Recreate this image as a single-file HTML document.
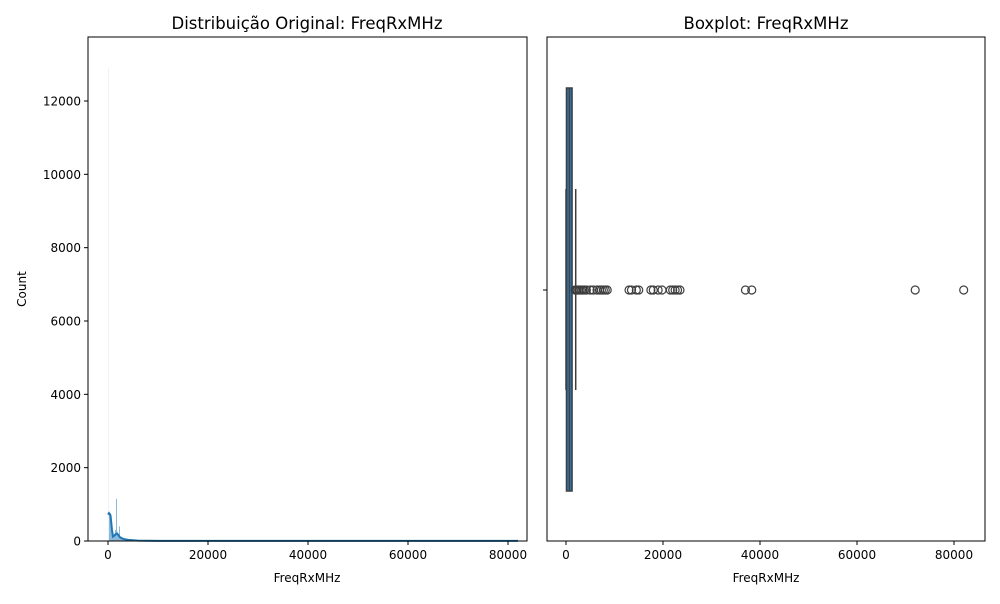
<!DOCTYPE html>
<html><head><meta charset="utf-8"><style>
body{margin:0;background:#fff;font-family:"DejaVu Sans","Liberation Sans",sans-serif}
</style></head><body>
<svg id="fig" width="1000" height="600" xmlns="http://www.w3.org/2000/svg" font-family="DejaVu Sans, Liberation Sans, sans-serif"></svg>
<script>
// Histogram data
const histBins = [0, 200, 400, 600, 800, 1000, 1200, 1400, 1600, 1800, 2000, 2200, 2400, 2600, 3000, 4000];
const histCounts = [12900, 720, 760, 300, 150, 100, 200, 300, 1150, 250, 180, 400, 120, 60, 30, 20];
const kdeX = [0, 200, 500, 800, 1000, 1300, 1700, 2000, 2400, 3000, 4000, 6000, 10000, 20000, 40000, 60000, 80000, 82000];
const kdeY = [720, 760, 700, 300, 120, 150, 200, 180, 100, 60, 30, 10, 5, 3, 2, 2, 2, 2];
const yTicks = [0, 2000, 4000, 6000, 8000, 10000, 12000];
const xTicks = [0, 20000, 40000, 60000, 80000];
// Boxplot data
const boxQ1 = 200, boxQ3 = 1150, boxMed = 700, whiskLo = 0, whiskHi = 1900;
const outliers = [1900,2100,2300,2600,2900,3200,3500,3800,4200,5000,5600,6400,6900,7300,7700,8100,8500,13000,13500,14500,15000,17500,18000,19000,19800,21500,22000,22500,23000,23500,37000,38300,72000,82000];

const svg = document.getElementById('fig');
const NS = 'http://www.w3.org/2000/svg';
function el(tag, attrs, parent){const e=document.createElementNS(NS,tag);for(const k in attrs)e.setAttribute(k,attrs[k]);(parent||svg).appendChild(e);return e;}
function txt(s, attrs){const t=el('text',attrs);t.textContent=s;return t;}

// Left axes
const L={x0:88,x1:527,y0:37,y1:541};
const lx=v=>108+v*400/80000;
const ly=v=>541-v*(440/12000);
for(let i=0;i<histCounts.length;i++){
  const a=lx(histBins[i]), b=lx(i+1<histBins.length?histBins[i+1]:histBins[i]+200);
  const r=el('rect',{x:a,y:ly(histCounts[i]),width:Math.max(0.6,b-a),height:541-ly(histCounts[i]),fill:i===0?'#dce9f4':'#7fb0d6','fill-opacity':i===0?0.5:0.9});
  
  
}
el('line',{x1:lx(4000),x2:lx(82000),y1:540.5,y2:540.5,stroke:'#7fb0d6','stroke-width':1});
const kde=el('polyline',{points:kdeX.map((x,i)=>lx(x)+','+ly(kdeY[i])).join(' '),fill:'none',stroke:'#1f77b4','stroke-width':2});


const lf=el('rect',{x:L.x0,y:L.y0,width:L.x1-L.x0,height:L.y1-L.y0,fill:'none',stroke:'#000','stroke-width':1});


yTicks.forEach(v=>{
  el('line',{x1:L.x0-4,x2:L.x0,y1:ly(v),y2:ly(v),stroke:'#000'});
  const t=txt(v,{x:L.x0-7,y:ly(v)+4.5,'font-size':12,'text-anchor':'end'});
  
  
});
xTicks.forEach(v=>{
  el('line',{x1:lx(v),x2:lx(v),y1:L.y1,y2:L.y1+4,stroke:'#000'});
  const t=txt(v,{x:lx(v),y:L.y1+18,'font-size':12,'text-anchor':'middle'});
  
  
});
let t=txt('Count',{x:26,y:289,'font-size':12,'text-anchor':'middle',transform:'rotate(-90 26 289)'});

t=txt('FreqRxMHz',{x:307,y:582,'font-size':12,'text-anchor':'middle'});

t=txt('Distribuição Original: FreqRxMHz',{x:307,y:29,'font-size':16.5,'text-anchor':'middle'});


// Right axes
const R={x0:547,x1:985,y0:37,y1:541};
const rx=v=>566+v*388/80000;
const cy=290;
el('line',{x1:rx(whiskLo),x2:rx(whiskLo),y1:189,y2:390,stroke:'#3f3f3f','stroke-width':1.5});
el('line',{x1:rx(whiskHi)+0.5,x2:rx(whiskHi)+0.5,y1:189,y2:390,stroke:'#3f3f3f','stroke-width':1.5});
const box=el('rect',{x:rx(boxQ1)-0.5,y:88,width:rx(boxQ3)-rx(boxQ1)+1,height:403,fill:'#30709f',stroke:'#3f3f3f','stroke-width':1.5});

el('line',{x1:rx(boxMed),x2:rx(boxMed),y1:88,y2:491,stroke:'#3f3f3f','stroke-width':1});
outliers.forEach(v=>{
  const c=el('circle',{cx:rx(v),cy:cy,r:4,fill:'none',stroke:'#3f3f3f','stroke-width':1.2});
  
  
});
const rf=el('rect',{x:R.x0,y:R.y0,width:R.x1-R.x0,height:R.y1-R.y0,fill:'none',stroke:'#000','stroke-width':1});

el('line',{x1:R.x0-4,x2:R.x0,y1:cy,y2:cy,stroke:'#000'});
xTicks.forEach(v=>{
  el('line',{x1:rx(v),x2:rx(v),y1:R.y1,y2:R.y1+4,stroke:'#000'});
  const t=txt(v,{x:rx(v),y:R.y1+18,'font-size':12,'text-anchor':'middle'});
  
  
});
t=txt('FreqRxMHz',{x:766,y:582,'font-size':12,'text-anchor':'middle'});

t=txt('Boxplot: FreqRxMHz',{x:766,y:29,'font-size':16.5,'text-anchor':'middle'});

</script>
</body></html>
